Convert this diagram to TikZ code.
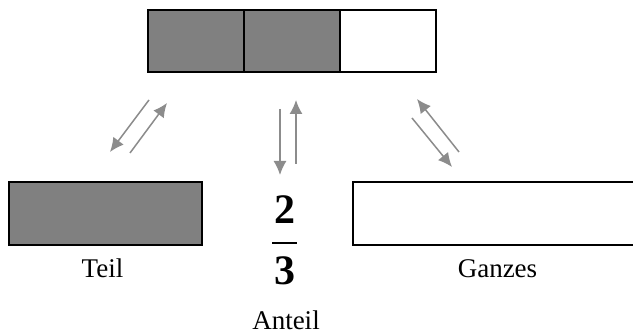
\documentclass[tikz,border=0pt]{standalone}
\usepackage{fontspec}
\setmainfont{Liberation Serif}
\usetikzlibrary{arrows.meta}
\definecolor{partgray}{HTML}{808080}
\definecolor{arrowgray}{HTML}{8C8C8C}
\tikzset{
  cell/.style={draw=black, line width=2pt, minimum height=62pt, inner sep=0pt},
  filled/.style={fill=partgray},
  label/.style={anchor=base, inner sep=0pt, font=\fontsize{27}{30}\selectfont},
  digit/.style={inner sep=0pt, font=\fontsize{42}{46}\selectfont\bfseries},
  flow/.style={draw=arrowgray, line width=1.5pt, -{Latex[length=14pt,width=13pt]}}
}
\begin{document}
\begin{tikzpicture}[x=1pt,y=-1pt]
  \useasboundingbox (0,0) rectangle (633,336);
  \fill[white] (0,0) rectangle (633,336);

  % the whole, split into three equal cells
  \node[cell, filled, minimum width=96pt] (c1) at (196,41) {};
  \node[cell, filled, minimum width=96pt] (c2) at (292,41) {};
  \node[cell, minimum width=96pt] (c3) at (388,41) {};

  % part and whole
  \node[cell, filled, minimum width=193pt, minimum height=63pt] (part) at (105.5,213.5) {};
  \node[cell, minimum width=360pt, minimum height=63pt] (whole) at (533,213.5) {};

  % the fraction
  \node[digit] (num) at (285,210) {2};
  \node[digit] (den) at (285,271) {3};
  \coordinate (barL) at (272,243);
  \coordinate (barR) at (297,243);
  \draw[line width=2pt] (barL) -- (barR);

  % labels
  \node[label] (lteil) at (102.5,278) {Teil};
  \node[label] (lganz) at (497.5,278) {Ganzes};
  \node[label] (lanteil) at (286,330) {Anteil};

  % arrow end points
  \coordinate (a1s) at (149,100); \coordinate (a1e) at (110,152);
  \coordinate (a2s) at (130,153); \coordinate (a2e) at (167,103);
  \coordinate (a3s) at (280,109); \coordinate (a3e) at (280,175);
  \coordinate (a4s) at (296,164); \coordinate (a4e) at (296,100);
  \coordinate (a5s) at (459,152); \coordinate (a5e) at (417,99);
  \coordinate (a6s) at (412,118); \coordinate (a6e) at (452,167);

  \draw[flow] (a1s) -- (a1e);
  \draw[flow] (a2s) -- (a2e);
  \draw[flow] (a3s) -- (a3e);
  \draw[flow] (a4s) -- (a4e);
  \draw[flow] (a5s) -- (a5e);
  \draw[flow] (a6s) -- (a6e);
\end{tikzpicture}
\end{document}
